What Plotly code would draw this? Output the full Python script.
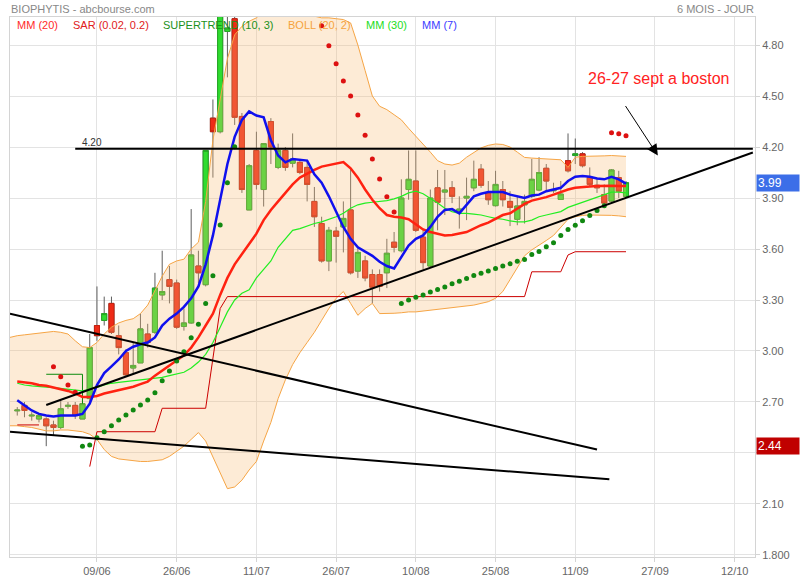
import plotly.graph_objects as go

FONT = "Liberation Sans, Arial, sans-serif"

# ---------------- data ----------------
idx = list(range(85))
tick_idx = [11, 22, 33, 44, 55, 66, 77, 88, 99]
tick_txt = ["09/06", "26/06", "11/07", "26/07", "10/08", "25/08", "11/09", "27/09", "12/10"]

opens = [2.648, 2.68, 2.618, 2.60, 2.60, 2.565, 2.55, 2.675, 2.68, 2.60,
         2.72, 3.15, 3.18, 3.28, 3.09, 2.99, 2.90, 2.93, 3.10, 3.11,
         3.33, 3.42, 3.40, 3.145, 3.165, 3.50, 3.39, 4.37, 4.29, 4.88,
         4.955, 4.38, 3.83, 4.18, 3.95, 4.35, 4.08, 4.18, 4.105, 4.11,
         4.08, 3.88, 3.75, 3.53, 3.705, 3.73, 3.83, 3.47, 3.53, 3.45,
         3.45, 3.46, 3.64, 3.59, 3.95, 4.00, 3.67, 3.50, 3.96, 3.935,
         3.96, 3.823, 3.90, 3.96, 4.07, 3.93, 3.855, 3.95, 3.88, 3.775,
         3.86, 3.91, 3.947, 4.075, 3.943, 3.892, 4.12, 4.15, 4.16, 4.02,
         3.975, 3.92, 3.882, 4.02, 3.91]
highs = [2.67, 2.70, 2.64, 2.63, 2.61, 2.59, 2.71, 2.70, 2.70, 2.72,
         3.10, 3.38, 3.32, 3.32, 3.15, 3.01, 3.05, 3.22, 3.16, 3.46,
         3.59, 3.50, 3.42, 3.25, 3.835, 3.59, 4.18, 4.48, 5.15, 5.05,
         5.00, 4.40, 4.10, 4.29, 4.22, 4.37, 4.22, 4.20, 4.28, 4.13,
         4.12, 3.965, 3.79, 3.73, 3.73, 3.88, 4.07, 3.61, 3.56, 3.48,
         3.48, 3.66, 3.70, 4.01, 4.18, 4.18, 3.71, 3.95, 4.065, 4.065,
         4.00, 3.91, 4.02, 4.12, 4.10, 4.00, 4.06, 4.00, 3.94, 3.91,
         3.92, 4.13, 4.14, 4.10, 3.99, 4.00, 4.28, 4.25, 4.17, 4.08,
         4.02, 3.98, 4.07, 4.06, 4.00]
lows = [2.62, 2.61, 2.59, 2.58, 2.44, 2.50, 2.54, 2.66, 2.60, 2.60,
        2.70, 3.06, 3.15, 3.10, 2.98, 2.85, 2.87, 2.93, 3.02, 3.10,
        3.30, 3.28, 3.13, 3.12, 3.16, 3.40, 3.38, 4.02, 4.28, 4.61,
        4.33, 3.93, 3.83, 3.95, 3.85, 4.10, 4.07, 4.06, 4.08, 4.04,
        3.88, 3.73, 3.52, 3.47, 3.52, 3.58, 3.45, 3.43, 3.41, 3.28,
        3.35, 3.37, 3.58, 3.58, 3.89, 3.70, 3.48, 3.49, 3.71, 3.80,
        3.87, 3.72, 3.77, 3.94, 3.96, 3.86, 3.85, 3.85, 3.735, 3.74,
        3.75, 3.90, 3.94, 3.94, 3.93, 3.89, 4.05, 4.10, 4.08, 3.97,
        3.93, 3.86, 3.87, 3.90, 3.90]
closes = [2.652, 2.65, 2.622, 2.62, 2.56, 2.55, 2.66, 2.68, 2.62, 2.69,
          3.02, 3.09, 3.22, 3.11, 3.02, 2.86, 2.915, 3.13, 3.05, 3.37,
          3.35, 3.38, 3.14, 3.165, 3.565, 3.46, 4.18, 4.29, 5.05, 4.90,
          4.375, 3.95, 4.09, 3.98, 4.22, 4.20, 4.18, 4.08, 4.13, 4.05,
          3.98, 3.79, 3.53, 3.71, 3.675, 3.78, 3.46, 3.58, 3.43, 3.375,
          3.38, 3.575, 3.61, 3.90, 4.01, 3.71, 3.52, 3.90, 3.875, 3.947,
          3.91, 3.835, 3.91, 4.01, 3.975, 3.89, 3.98, 3.89, 3.845, 3.853,
          3.88, 4.01, 4.05, 4.00, 3.95, 3.923, 4.06, 4.16, 4.09, 3.98,
          3.96, 3.87, 4.065, 3.94, 3.99]

mm7 = [2.71, 2.68, 2.65, 2.63, 2.62, 2.615, 2.62, 2.62, 2.62, 2.63,
       2.69, 2.80, 2.87, 2.91, 2.95, 3.00, 3.025, 3.04, 3.05, 3.08,
       3.15, 3.19, 3.22, 3.26, 3.31, 3.38, 3.51, 3.68, 3.89, 4.10,
       4.26, 4.36, 4.41, 4.385, 4.375, 4.24, 4.15, 4.11, 4.13, 4.125,
       4.12, 4.04, 3.99, 3.91, 3.82, 3.73, 3.66, 3.61, 3.585, 3.56,
       3.525, 3.50, 3.486, 3.55, 3.62, 3.66, 3.68, 3.73, 3.79, 3.83,
       3.835, 3.81, 3.86, 3.91, 3.925, 3.935, 3.935, 3.935, 3.92, 3.91,
       3.90, 3.915, 3.92, 3.94, 3.95, 3.96, 4.00, 4.025, 4.03, 4.025,
       4.015, 4.01, 4.025, 4.01, 3.985]
mm20 = [2.82, 2.815, 2.81, 2.80, 2.795, 2.785, 2.775, 2.765, 2.75, 2.73,
        2.73, 2.735, 2.75, 2.76, 2.77, 2.78, 2.79, 2.805, 2.82, 2.855,
        2.885, 2.915, 2.945, 2.975, 3.02, 3.08, 3.15, 3.22, 3.33, 3.43,
        3.51, 3.57, 3.63, 3.69, 3.77, 3.83, 3.88, 3.93, 3.98, 4.02,
        4.045, 4.065, 4.085, 4.095, 4.105, 4.112, 4.075, 4.02, 3.95, 3.89,
        3.84, 3.80, 3.79, 3.785, 3.775, 3.745, 3.715, 3.70, 3.69, 3.68,
        3.683, 3.69, 3.70, 3.72, 3.74, 3.755, 3.78, 3.80, 3.81, 3.84,
        3.865, 3.885, 3.895, 3.905, 3.92, 3.935, 3.95, 3.96, 3.965, 3.968,
        3.97, 3.972, 3.972, 3.97, 3.97]
mm30 = [2.81, 2.80, 2.795, 2.79, 2.787, 2.785, 2.78, 2.775, 2.77, 2.765,
        2.775, 2.785, 2.80, 2.81, 2.815, 2.82, 2.825, 2.83, 2.835, 2.84,
        2.845, 2.855, 2.865, 2.875, 2.90, 2.935, 2.98, 3.05, 3.14, 3.23,
        3.30, 3.34, 3.36, 3.43, 3.48, 3.53, 3.61, 3.66, 3.71, 3.72,
        3.735, 3.75, 3.76, 3.775, 3.79, 3.81, 3.84, 3.86, 3.87, 3.875,
        3.88, 3.885, 3.895, 3.91, 3.93, 3.94, 3.925, 3.90, 3.87, 3.84,
        3.82, 3.81, 3.81, 3.805, 3.80, 3.79, 3.78, 3.775, 3.765, 3.76,
        3.76, 3.77, 3.79, 3.80, 3.81, 3.82, 3.845, 3.86, 3.875, 3.89,
        3.905, 3.92, 3.935, 3.935, 3.93]

boll_idx = list(range(-1, 85))
boll_up = [3.08, 3.09, 3.095, 3.10, 3.105, 3.11, 3.115, 3.11, 3.10, 3.06,
           3.025, 3.02, 3.05, 3.10, 3.14, 3.165, 3.18, 3.19, 3.22, 3.27,
           3.36, 3.44, 3.51, 3.53, 3.54, 3.60, 3.64, 3.88, 4.24, 4.48,
           4.72, 4.86, 4.91, 4.94, 4.96, 5.00, 5.04, 5.06, 5.07, 5.07,
           5.05, 5.01, 4.97, 4.96, 4.96, 4.955, 4.95, 4.93, 4.80, 4.65,
           4.50, 4.44, 4.42, 4.39, 4.36, 4.31, 4.265, 4.22, 4.17, 4.12,
           4.10, 4.094, 4.105, 4.14, 4.17, 4.195, 4.21, 4.218, 4.215, 4.20,
           4.17, 4.139, 4.135, 4.132, 4.13, 4.13, 4.125, 4.08, 4.14, 4.145,
           4.145, 4.145, 4.148, 4.15, 4.148, 4.145]
boll_lo = [2.56, 2.56, 2.555, 2.55, 2.54, 2.53, 2.53, 2.535, 2.535, 2.53,
           2.525, 2.51, 2.48, 2.42, 2.38, 2.365, 2.36, 2.355, 2.35, 2.35,
           2.355, 2.36, 2.38, 2.41, 2.44, 2.48, 2.52, 2.47, 2.38, 2.28,
           2.19, 2.20, 2.24, 2.30, 2.35, 2.47, 2.58, 2.72, 2.83, 2.92,
           2.99, 3.05, 3.11, 3.18, 3.25, 3.31, 3.35, 3.28, 3.21, 3.25,
           3.28, 3.22, 3.22, 3.222, 3.225, 3.23, 3.23, 3.235, 3.24, 3.245,
           3.25, 3.255, 3.26, 3.265, 3.27, 3.28, 3.29, 3.31, 3.35, 3.42,
           3.49, 3.56, 3.595, 3.62, 3.65, 3.68, 3.73, 3.775, 3.79, 3.798,
           3.80, 3.80, 3.80, 3.798, 3.795, 3.79]

sar_red_idx = [5, 6, 7, 8] + list(range(42, 53)) + [82, 83, 84]
sar_red = [2.908, 2.849, 2.80, 2.757,
           4.914, 4.796, 4.69, 4.588, 4.50, 4.388, 4.27, 4.129, 4.012, 3.908, 3.818,
           4.284, 4.278, 4.266]
sar_green_idx = list(range(9, 31)) + list(range(53, 82))
sar_green = [2.44, 2.447, 2.49, 2.525, 2.56, 2.594, 2.624, 2.653, 2.682, 2.712,
             2.755, 2.825, 2.882, 2.941, 2.996, 3.078, 3.157, 3.28, 3.443, 3.741,
             3.99, 4.202,
             3.28, 3.30, 3.316, 3.33, 3.347, 3.362, 3.377, 3.396, 3.41, 3.427,
             3.444, 3.457, 3.47, 3.486, 3.50, 3.513, 3.528, 3.539, 3.567, 3.586,
             3.613, 3.637, 3.68, 3.715, 3.74, 3.766, 3.797, 3.827, 3.855]

# supertrend break points
st_red_idx = [0, 3, None, 10, 11, 19, 20, 26, 27, 28, 29, 70, 71, 75, 76, 77, 84]
st_red = [2.565, 2.565, None, 2.32, 2.525, 2.525, 2.663, 2.663, 2.95, 3.25, 3.32,
          3.32, 3.466, 3.466, 3.565, 3.584, 3.584]
st_green_idx = [4, 9, 9]
st_green = [2.863, 2.863, 2.69]

# hand-drawn lines (start idx, start value, end idx, end value)
line_h420 = (8.0, 4.19, 101.5, 4.19)
line_up = (4.0, 2.682, 101.5, 4.168)
line_dn1 = (-1.0, 3.22, 80.0, 2.42)
line_dn2 = (-1.0, 2.525, 81.7, 2.245)
arrow_from = (83.8, 4.45)
arrow_to = (88.4, 4.15)

last_price = 3.99
low_mark = 2.44

y_ticks = [1.8, 2.1, 2.4, 2.7, 3.0, 3.3, 3.6, 3.9, 4.2, 4.5, 4.8]
y_ticktxt = ["1.800", "2.10", "", "2.70", "3.00", "3.30", "3.60", "3.90", "4.20", "4.50", "4.80"]

# ---------------- figure ----------------
fig = go.Figure()

fig.add_trace(go.Scatter(x=boll_idx, y=boll_up, mode="lines",
                         line=dict(color="#f6a545", width=1), hoverinfo="skip"))
fig.add_trace(go.Scatter(x=boll_idx, y=boll_lo, mode="lines",
                         line=dict(color="#f6a545", width=1), fill="tonexty",
                         fillcolor="rgba(247,190,120,0.30)", hoverinfo="skip"))

fig.add_trace(go.Scatter(x=st_red_idx, y=st_red, mode="lines",
                         line=dict(color="#cc0000", width=1), connectgaps=False))
fig.add_trace(go.Scatter(x=st_green_idx, y=st_green, mode="lines",
                         line=dict(color="#0c8a0c", width=1)))

# wicks (grey) + bodies (coloured borders) drawn from the same OHLC lists
fig.add_trace(go.Candlestick(
    x=idx, open=opens, high=highs, low=lows, close=closes,
    increasing=dict(fillcolor="#2fdc2f", line=dict(color="#5e5e5e", width=1)),
    decreasing=dict(fillcolor="#ee2a17", line=dict(color="#5e5e5e", width=1)),
    whiskerwidth=0))
body_hi = [max(o, c) for o, c in zip(opens, closes)]
body_lo = [min(o, c) for o, c in zip(opens, closes)]
fig.add_trace(go.Candlestick(
    x=idx, open=opens, high=body_hi, low=body_lo, close=closes,
    increasing=dict(fillcolor="#2fdc2f", line=dict(color="#25a825", width=1)),
    decreasing=dict(fillcolor="#ee2a17", line=dict(color="#c4200f", width=1)),
    whiskerwidth=0))

fig.add_trace(go.Scatter(x=idx, y=mm30, mode="lines", line=dict(color="#22ee22", width=1.2)))
fig.add_trace(go.Scatter(x=idx, y=mm20, mode="lines", line=dict(color="#ff2211", width=2.5)))
fig.add_trace(go.Scatter(x=idx, y=mm7, mode="lines", line=dict(color="#1010ee", width=2.5)))

fig.add_trace(go.Scatter(x=sar_red_idx, y=sar_red, mode="markers",
                         marker=dict(color="#dd1111", size=5)))
fig.add_trace(go.Scatter(x=sar_green_idx, y=sar_green, mode="markers",
                         marker=dict(color="#118811", size=5)))

for ln in (line_h420, line_up, line_dn1, line_dn2):
    fig.add_trace(go.Scatter(x=[ln[0], ln[2]], y=[ln[1], ln[3]], mode="lines",
                             line=dict(color="black", width=2)))

W, H = 800, 580
ML, MR, MT, MB = 10, 45, 17, 23
pw = W - ML - MR
ph = H - MT - MB


def px(xp):
    return (xp - ML) / pw


def py(yp):
    return (H - MB - yp) / ph


ann = []
legend_items = [("MM (20)", "#ff2a2a", 15), ("SAR (0.02, 0.2)", "#e02020", 71),
                ("SUPERTREND (10, 3)", "#1b911b", 161), ("BOLL (20, 2)", "#f5a33c", 286),
                ("MM (30)", "#22dd22", 364), ("MM (7)", "#3b3bff", 420)]
for t, c, xp in legend_items:
    ann.append(dict(text=t, x=px(xp), y=py(25), xref="paper", yref="paper",
                    xanchor="left", yanchor="middle", showarrow=False,
                    font=dict(family=FONT, size=11, color=c)))

ann.append(dict(text="BIOPHYTIS - abcbourse.com", x=px(9), y=py(9), xref="paper", yref="paper",
                xanchor="left", yanchor="middle", showarrow=False,
                font=dict(family=FONT, size=11, color="#888888")))
ann.append(dict(text="6 MOIS - JOUR", x=px(756), y=py(9), xref="paper", yref="paper",
                xanchor="right", yanchor="middle", showarrow=False,
                font=dict(family=FONT, size=11, color="#888888")))

ann.append(dict(text="4.20", x=10.3, y=4.225, xref="x", yref="y", showarrow=False,
                font=dict(family=FONT, size=10, color="#333333")))
ann.append(dict(text="26-27 sept a boston", x=88.5, y=4.605, xref="x", yref="y", showarrow=False,
                font=dict(family=FONT, size=16, color="#ff2222")))
ann.append(dict(text="", x=arrow_to[0], y=arrow_to[1], ax=arrow_from[0], ay=arrow_from[1],
                xref="x", yref="y", axref="x", ayref="y", showarrow=True,
                arrowhead=2, arrowsize=2.2, arrowwidth=1, arrowcolor="black"))

for val, col in ((last_price, "#3c6ee8"), (low_mark, "#c00000")):
    ann.append(dict(text="%.2f" % val, x=1.0, y=val, xref="paper", yref="y",
                    xanchor="left", yanchor="middle", xshift=1, showarrow=False,
                    bgcolor=col, width=40, height=14, align="left", borderpad=1,
                    font=dict(family=FONT, size=12, color="white")))

fig.update_layout(
    width=W, height=H, margin=dict(l=ML, r=MR, t=MT, b=MB, autoexpand=False),
    plot_bgcolor="white", paper_bgcolor="white", showlegend=False,
    font=dict(family=FONT, size=11, color="#666666"),
    annotations=ann, boxgap=0.3, boxgroupgap=0,
    xaxis=dict(range=[-1.0, 101.8], tickvals=tick_idx, ticktext=tick_txt,
               showgrid=True, gridcolor="#e3e3e3", gridwidth=1, zeroline=False,
               showline=True, linecolor="#d4d4d4", mirror=True, automargin=False,
               ticks="outside", ticklen=4, tickcolor="#d4d4d4",
               tickfont=dict(family=FONT, size=11, color="#666666"),
               rangeslider=dict(visible=False)),
    yaxis=dict(side="right", range=[1.788, 4.965], tickvals=y_ticks, ticktext=y_ticktxt,
               showgrid=True, gridcolor="#e3e3e3", gridwidth=1, zeroline=False,
               showline=True, linecolor="#d4d4d4", mirror=True, automargin=False,
               ticks="outside", ticklen=4, tickcolor="#d4d4d4",
               tickfont=dict(family=FONT, size=11, color="#666666")),
)

fig.write_html("out.html", config={"displayModeBar": False},
               post_script="document.body.style.margin='0';document.body.style.overflow='hidden';")
